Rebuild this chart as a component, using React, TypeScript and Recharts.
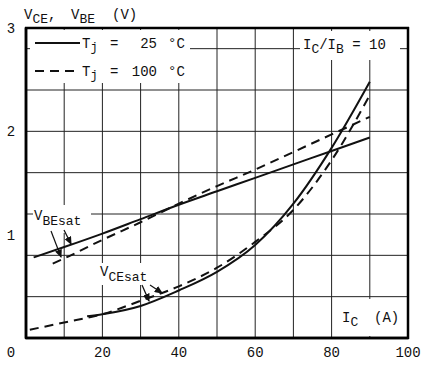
import React from "react";
import {
  LineChart,
  Line,
  XAxis,
  YAxis,
  CartesianGrid,
  Legend,
} from "recharts";

// collector current I_C (A) and saturation voltages (V)
const IC_VBE_25 = [2, 10, 20, 30, 40, 50, 60, 70, 80, 90];
const VBE_25 = [0.78, 0.88, 1.01, 1.15, 1.29, 1.42, 1.55, 1.68, 1.81, 1.94];
const IC_VBE_100 = [7, 10, 20, 30, 40, 50, 60, 70, 80, 90];
const VBE_100 = [0.72, 0.77, 0.95, 1.12, 1.3, 1.47, 1.63, 1.8, 1.97, 2.14];
const IC_VCE_25 = [16, 20, 30, 40, 50, 60, 70, 80, 90];
const VCE_25 = [0.21, 0.23, 0.31, 0.46, 0.64, 0.9, 1.3, 1.84, 2.48];
const IC_VCE_100 = [1, 10, 20, 30, 40, 50, 60, 70, 80, 90];
const VCE_100 = [0.08, 0.15, 0.23, 0.36, 0.5, 0.68, 0.93, 1.24, 1.72, 2.35];

const TEMPS = ["25", "100"];
const IC_TICKS = [0, 20, 40, 60, 80, 100];
const V_TICKS = [1, 2, 3];
const GRID_IC = [10, 20, 30, 40, 50, 60, 70, 80, 90];
const GRID_V = [0.2, 0.4, 0.6, 0.8, 1, 1.2, 1.4, 1.6, 1.8, 2, 2.2, 2.4, 2.6, 2.8];

const zip = (xs: number[], ys: number[]) => xs.map((ic, i) => ({ ic, v: ys[i] }));

const FONT = "'Liberation Mono', 'DejaVu Sans Mono', monospace";
const INK = "#111";
const DASH = "9 6";

const XTick = (props: any) => {
  const { x, payload } = props;
  const dx = payload.value === 0 ? -15 : 0;
  return (
    <text x={x + dx} y={357} textAnchor="middle" fontFamily={FONT} fontSize={14} fill={INK}>
      {payload.value}
    </text>
  );
};

const YTick = (props: any) => {
  const { y, payload } = props;
  return (
    <text x={11} y={y + 5} textAnchor="middle" fontFamily={FONT} fontSize={14} fill={INK}>
      {payload.value}
    </text>
  );
};

const LegendBox = (props: any) => {
  const items = (props.payload || [])
    .filter((p: any) => p.type !== "none")
    .sort((a: any, b: any) => TEMPS.indexOf(a.value) - TEMPS.indexOf(b.value));
  return (
    <svg width={160} height={53} style={{ display: "block", background: "#fff" }}>
      {items.map((it: any, i: number) => {
        const y = i === 0 ? 13 : 41;
        const dash = it.payload?.strokeDasharray;
        return (
          <g key={i} fontFamily={FONT} fontSize={14} fill={INK}>
            <line x1={5} x2={50} y1={y} y2={y} stroke={INK} strokeWidth={2} strokeDasharray={dash} />
            <text x={52} y={y + 5}>
              T<tspan dy={3} fontSize={12}>j</tspan>
            </text>
            <text x={80} y={y + 5}>=</text>
            <text x={127} y={y + 5} textAnchor="end">
              {it.value}
            </text>
            <text x={138} y={y + 5}>°C</text>
          </g>
        );
      })}
    </svg>
  );
};

export default function App() {
  return (
    <div style={{ position: "relative", width: 426, height: 366, background: "#fff" }}>
      <style>{`body{margin:0}`}</style>
      <LineChart width={426} height={366} margin={{ top: 28, right: 18, bottom: 0, left: 0 }}>
        <CartesianGrid
          stroke="#222"
          strokeWidth={1}
          horizontalValues={GRID_V}
          verticalValues={GRID_IC}
        />
        <XAxis
          type="number"
          dataKey="ic"
          domain={[0, 100]}
          ticks={IC_TICKS}
          height={28}
          axisLine={{ stroke: "#000", strokeWidth: 2.5 }}
          tickLine={false}
          tick={<XTick />}
          allowDataOverflow
        />
        <YAxis
          type="number"
          domain={[0, 3]}
          ticks={V_TICKS}
          width={26}
          axisLine={{ stroke: "#000", strokeWidth: 2.5 }}
          tickLine={false}
          tick={<YTick />}
          allowDataOverflow
        />
        <Line
          data={zip(IC_VBE_25, VBE_25)}
          dataKey="v"
          name={TEMPS[0]}
          type="monotone"
          stroke={INK}
          strokeWidth={2}
          dot={false}
          isAnimationActive={false}
        />
        <Line
          data={zip(IC_VBE_100, VBE_100)}
          dataKey="v"
          name={TEMPS[1]}
          type="monotone"
          stroke={INK}
          strokeWidth={2}
          strokeDasharray={DASH}
          dot={false}
          isAnimationActive={false}
        />
        <Line
          data={zip(IC_VCE_25, VCE_25)}
          dataKey="v"
          name="vce25"
          legendType="none"
          type="monotone"
          stroke={INK}
          strokeWidth={2}
          dot={false}
          isAnimationActive={false}
        />
        <Line
          data={zip(IC_VCE_100, VCE_100)}
          dataKey="v"
          name="vce100"
          legendType="none"
          type="monotone"
          stroke={INK}
          strokeWidth={2}
          strokeDasharray={DASH}
          dot={false}
          isAnimationActive={false}
        />
        <Legend
          layout="horizontal"
          verticalAlign="middle"
          align="center"
          wrapperStyle={{ left: 30, top: 30, width: 160, height: 53 }}
          content={<LegendBox />}
        />
      </LineChart>

      {/* frame and annotations drawn over the grid */}
      <svg
        width={426}
        height={366}
        style={{ position: "absolute", left: 0, top: 0, pointerEvents: "none" }}
      >
        <defs>
          <marker id="ah" markerWidth={7} markerHeight={6} refX={6} refY={3} orient="auto">
            <path d="M0,0 L7,3 L0,6 z" fill={INK} />
          </marker>
        </defs>

        {/* plot frame */}
        <line x1={25} y1={28} x2={409} y2={28} stroke="#000" strokeWidth={2.5} />
        <line x1={25} y1={338} x2={409} y2={338} stroke="#000" strokeWidth={2.5} />
        <line x1={26} y1={27} x2={26} y2={339} stroke="#000" strokeWidth={2.5} />
        <line x1={408} y1={27} x2={408} y2={339} stroke="#000" strokeWidth={2.5} />

        <g fontFamily={FONT} fontSize={14} fill={INK}>
          {/* axis title */}
          <text x={24} y={19}>
            V<tspan dy={4} fontSize={13}>CE</tspan>
            <tspan dy={-4}>,</tspan>
          </text>
          <text x={71} y={19}>
            V<tspan dy={4} fontSize={13}>BE</tspan>
          </text>
          <text x={112} y={19}>(V)</text>

          {/* I_C / I_B = 10 */}
          <rect x={300} y={31} width={100} height={29} fill="#fff" />
          <text x={303} y={49}>
            I<tspan dy={4} fontSize={13}>C</tspan>
            <tspan dy={-4}>/I</tspan>
            <tspan dy={4} fontSize={13}>B</tspan>
            <tspan dy={-4}> = 10</tspan>
          </text>

          {/* I_C (A) */}
          <rect x={334} y={299} width={72} height={37} fill="#fff" />
          <text x={342} y={322}>
            I<tspan dy={4} fontSize={13}>C</tspan>
          </text>
          <text x={374} y={322}>(A)</text>

          {/* V_BEsat */}
          <rect x={33} y={205} width={58} height={28} fill="#fff" />
          <text x={34} y={220}>
            V<tspan dy={5} fontSize={13}>BEsat</tspan>
          </text>

          {/* V_CEsat */}
          <rect x={99} y={263} width={61} height={22} fill="#fff" />
          <text x={100} y={276}>
            V<tspan dy={5} fontSize={13}>CEsat</tspan>
          </text>
        </g>

        <line x1={51} y1={231} x2={61} y2={257} stroke={INK} strokeWidth={1.2} markerEnd="url(#ah)" />
        <line x1={64} y1={230} x2={71} y2={244} stroke={INK} strokeWidth={1.2} markerEnd="url(#ah)" />
        <line x1={142} y1={285} x2={149} y2={301} stroke={INK} strokeWidth={1.2} markerEnd="url(#ah)" />
        <line x1={150} y1={285} x2={162} y2={293} stroke={INK} strokeWidth={1.2} markerEnd="url(#ah)" />
      </svg>
    </div>
  );
}
